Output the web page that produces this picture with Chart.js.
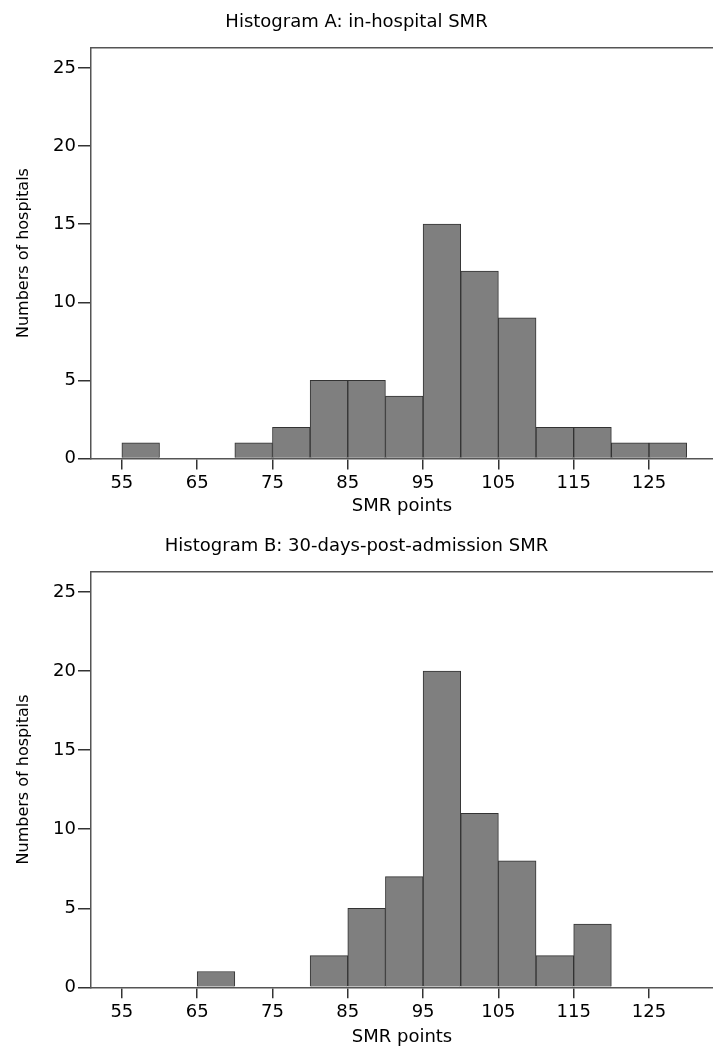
<!DOCTYPE html>
<html>
<head>
<meta charset="utf-8">
<script src="https://cdn.jsdelivr.net/npm/chart.js@4.4.1/dist/chart.umd.min.js"></script>
<style>
    body { margin: 0; background: #ffffff; }
    .wrap { position: absolute; left: 0; width: 713px; height: 524px; }
</style>
</head>
<body>
<div class="wrap" style="top: 0px;"><canvas id="histA"></canvas></div>
<div class="wrap" style="top: 524px;"><canvas id="histB"></canvas></div>
<script>
// bin left edges (width 5 SMR points)
const binStarts = [55, 60, 65, 70, 75, 80, 85, 90, 95, 100, 105, 110, 115, 120, 125];
const binWidth = 5;
const countsA = [1, 0, 0, 1, 2, 5, 5, 4, 15, 12, 9, 2, 2, 1, 1];
const countsB = [0, 0, 1, 0, 0, 2, 5, 7, 20, 11, 8, 2, 4, 0, 0];
const xTicks = [55, 65, 75, 85, 95, 105, 115, 125];
const yTicks = [0, 5, 10, 15, 20, 25];

const fontFamily = "'DejaVu Sans', sans-serif";

function makeHistogram(canvasId, titleText, counts, layout) {
    const canvas = document.getElementById(canvasId);
    const ctx = canvas.getContext('2d');

    const points = binStarts.map(function (start, i) {
        return { x: start + binWidth / 2, y: counts[i] };
    });

    return new Chart(ctx, {
        type: 'bar',
        data: {
            datasets: [{
                label: titleText,
                data: points,
                backgroundColor: '#7f7f7f',
                borderColor: '#333',
                borderWidth: 1,
                barPercentage: 1,
                categoryPercentage: 1
            }]
        },
        options: {
            responsive: true,
            maintainAspectRatio: false,
            animation: false,
            layout: { padding: 0 },
            plugins: {
                legend: { display: false },
                tooltip: { enabled: false },
                title: {
                    display: true,
                    text: titleText,
                    color: '#000',
                    font: { family: fontFamily, size: 18, weight: 'normal' },
                    padding: { top: 12, bottom: 14 }
                }
            },
            scales: {
                x: {
                    type: 'linear',
                    position: 'bottom',
                    min: 50.9,
                    max: 133.5,
                    offset: false,
                    afterBuildTicks: function (scale) {
                        scale.ticks = xTicks.map(function (v) { return { value: v }; });
                    },
                    afterFit: function (scale) {
                        scale.height = layout.xHeight;
                    },
                    grid: {
                        display: true,
                        drawOnChartArea: false,
                        drawTicks: true,
                        tickLength: 11,
                        color: '#333',
                        lineWidth: 1.5,
                        offset: false
                    },
                    border: { display: true, color: '#555', width: 1.5 },
                    ticks: {
                        color: '#000',
                        padding: 3,
                        maxRotation: 0,
                        autoSkip: false,
                        font: { family: fontFamily, size: 18 }
                    },
                    title: {
                        display: true,
                        text: 'SMR points',
                        color: '#000',
                        font: { family: fontFamily, size: 18 },
                        padding: { top: 0, bottom: layout.xTitlePad }
                    }
                },
                xTop: {
                    type: 'linear',
                    position: 'top',
                    min: 50.9,
                    max: 133.5,
                    afterFit: function (scale) {
                        scale.height = 0;
                    },
                    grid: { display: false },
                    ticks: { display: false },
                    border: { display: true, color: '#555', width: 1.5 }
                },
                y: {
                    type: 'linear',
                    min: 0,
                    max: 26.3,
                    afterBuildTicks: function (scale) {
                        scale.ticks = yTicks.map(function (v) { return { value: v }; });
                    },
                    afterFit: function (scale) {
                        scale.width = 91;
                    },
                    grid: {
                        display: true,
                        drawOnChartArea: false,
                        drawTicks: true,
                        tickLength: 13,
                        color: '#333',
                        lineWidth: 1.5
                    },
                    border: { display: true, color: '#555', width: 1.5 },
                    ticks: {
                        color: '#000',
                        padding: 2,
                        font: { family: fontFamily, size: 18 }
                    },
                    title: {
                        display: true,
                        text: 'Numbers of hospitals',
                        color: '#000',
                        font: { family: fontFamily, size: 16 },
                        padding: { top: 14, bottom: 0 }
                    }
                }
            }
        }
    });
}

makeHistogram('histA', 'Histogram A: in-hospital SMR', countsA, { xHeight: 65.5, xTitlePad: 7 });
makeHistogram('histB', 'Histogram B: 30-days-post-admission SMR', countsB, { xHeight: 60.7, xTitlePad: 0 });
</script>
</body>
</html>
